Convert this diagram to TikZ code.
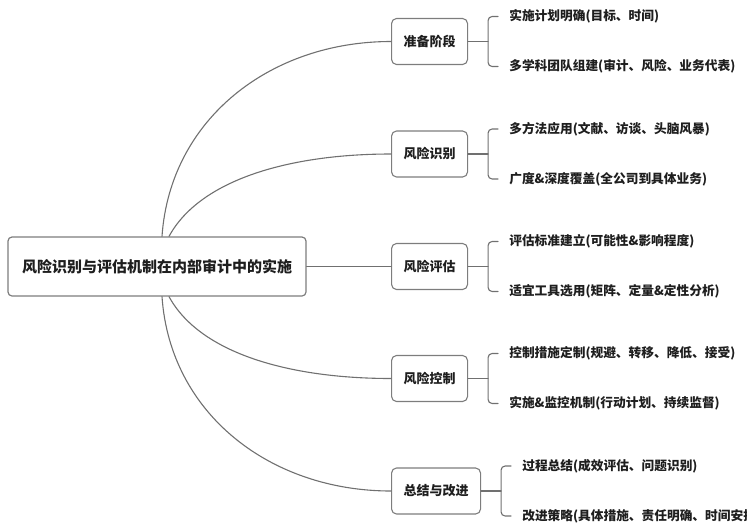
\documentclass[tikz,border=0pt]{standalone}
\usepackage{fontspec}
\setmainfont{Noto Sans CJK SC}
\definecolor{linegray}{RGB}{112,112,112}
\definecolor{boxgray}{RGB}{125,125,125}
\definecolor{inkgray}{RGB}{30,30,30}
\tikzset{
  rootbox/.style={draw=boxgray,line width=1.2pt,rounded corners=4pt,
    minimum width=298pt,minimum height=59pt,text=inkgray,
    font=\fontsize{15}{18}\selectfont\bfseries},
  stagebox/.style={draw=boxgray,line width=1.1pt,rounded corners=5pt,
    minimum height=46pt,inner xsep=12pt,anchor=west,text=inkgray,
    font=\fontsize{13}{16}\selectfont\bfseries},
  leaf/.style={inner sep=0pt,anchor=west,text=inkgray,
    font=\fontsize{12.7}{15}\selectfont\bfseries},
  link/.style={draw=linegray,line width=1.1pt},
}
\begin{document}
\begin{tikzpicture}[x=1pt,y=-1pt,line cap=round,line join=round]
  \useasboundingbox (0,0) rectangle (747,528);

  % Root topic.
  \node[rootbox] (root) at (157,266.5) {风险识别与评估机制在内部审计中的实施};

  % Stages.
  \node[stagebox] (b1) at (391,41.5) {准备阶段};
  \node[stagebox] (b2) at (391,154) {风险识别};
  \node[stagebox] (b3) at (391,266.5) {风险评估};
  \node[stagebox] (b4) at (391,378.5) {风险控制};
  \node[stagebox] (b5) at (391,491) {总结与改进};

  % Details of each stage.
  \node[leaf] (l11) at ([xshift=41pt,yshift=25pt]b1.east) {实施计划明确(目标、时间)};
  \node[leaf] (l12) at ([xshift=41pt,yshift=-25pt]b1.east) {多学科团队组建(审计、风险、业务代表)};
  \node[leaf] (l21) at ([xshift=41pt,yshift=25pt]b2.east) {多方法应用(文献、访谈、头脑风暴)};
  \node[leaf] (l22) at ([xshift=41pt,yshift=-25pt]b2.east) {广度\&深度覆盖(全公司到具体业务)};
  \node[leaf] (l31) at ([xshift=41pt,yshift=25pt]b3.east) {评估标准建立(可能性\&影响程度)};
  \node[leaf] (l32) at ([xshift=41pt,yshift=-25pt]b3.east) {适宜工具选用(矩阵、定量\&定性分析)};
  \node[leaf] (l41) at ([xshift=41pt,yshift=25pt]b4.east) {控制措施定制(规避、转移、降低、接受)};
  \node[leaf] (l42) at ([xshift=41pt,yshift=-25pt]b4.east) {实施\&监控机制(行动计划、持续监督)};
  \node[leaf] (l51) at ([xshift=41pt,yshift=25pt]b5.east) {过程总结(成效评估、问题识别)};
  \node[leaf] (l52) at ([xshift=41pt,yshift=-25pt]b5.east) {改进策略(具体措施、责任明确、时间安排)};

  % Root to stages.
  \draw[link] ([xshift=5pt]root.north) .. controls +(8,-117) and +(-121,0) .. (b1.west);
  \draw[link] ([xshift=12pt]root.north) .. controls +(31,-57) and +(-101,0) .. (b2.west);
  \draw[link] (root.east) -- (b3.west);
  \draw[link] ([xshift=12pt]root.south) .. controls +(31,57) and +(-101,0) .. (b4.west);
  \draw[link] ([xshift=5pt]root.south) .. controls +(8,117) and +(-121,0) .. (b5.west);

  % Brackets.
  \foreach \i in {1,...,5} {
    \draw[link] (b\i.east) -- ++(20,0);
    \draw[link,rounded corners=4pt] ([xshift=-11pt]l\i1.west) -- ++(-10,0)
      |- ([xshift=-11pt]l\i2.west);
  }
\end{tikzpicture}
\end{document}
